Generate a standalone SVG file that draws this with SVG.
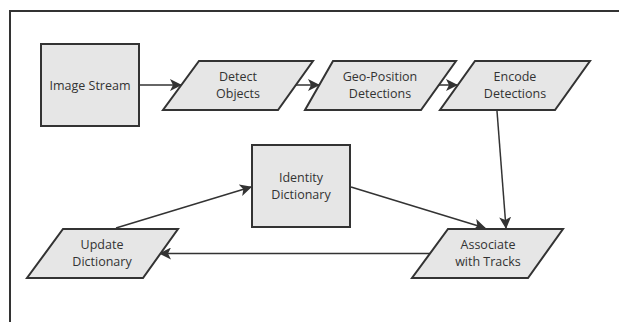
<svg xmlns="http://www.w3.org/2000/svg" width="619" height="322" viewBox="0 0 619 322">
<style>
.n{fill:#e6e6e6;stroke:#333;stroke-width:2}
.t{font-family:"Open Sans",sans-serif;font-size:12.5px;fill:#333;text-anchor:middle}
.c{stroke:#333;stroke-width:1.5;fill:none;marker-end:url(#a)}
</style>
<defs>
<marker id="a" markerWidth="12" markerHeight="12" refX="11" refY="6" orient="auto" markerUnits="userSpaceOnUse">
<path d="M0,0 L12,6 L0,12 L3,6 z" fill="#333"/>
</marker>
</defs>
<rect x="0" y="0" width="619" height="322" fill="#fff"/>
<path d="M10,330 L10,11 L630,11" fill="none" stroke="#333" stroke-width="2"/>
<g id="connectors">
<line class="c" x1="140" y1="85" x2="181" y2="85"/>
<line class="c" x1="296" y1="85" x2="319" y2="85"/>
<line class="c" x1="438" y1="85" x2="457" y2="85"/>
<line class="c" x1="497" y1="111" x2="506" y2="228"/>
<line class="c" x1="351" y1="187" x2="485" y2="228"/>
<line class="c" x1="430" y1="253.5" x2="160" y2="253.5"/>
<line class="c" x1="116" y1="228" x2="251" y2="187"/>
</g>
<g id="image-stream">
<rect class="n" x="41" y="44" width="98" height="82"/>
<text class="t" x="90" y="89.5">Image Stream</text>
</g>
<g id="detect-objects">
<polygon class="n" points="199,61 313,61 278,110 163,110"/>
<text class="t" x="238" y="81">Detect</text>
<text class="t" x="238" y="98">Objects</text>
</g>
<g id="geo-position">
<polygon class="n" points="333,61 456,61 421,110 305,110"/>
<text class="t" x="380" y="81">Geo-Position</text>
<text class="t" x="380" y="98">Detections</text>
</g>
<g id="encode-detections">
<polygon class="n" points="475,61 590,61 555,110 440,110"/>
<text class="t" x="515" y="81">Encode</text>
<text class="t" x="515" y="98">Detections</text>
</g>
<g id="identity-dictionary">
<rect class="n" x="252" y="145" width="98" height="82"/>
<text class="t" x="301" y="182">Identity</text>
<text class="t" x="301" y="199">Dictionary</text>
</g>
<g id="update-dictionary">
<polygon class="n" points="63,229 178,229 143,278 27,278"/>
<text class="t" x="102" y="249">Update</text>
<text class="t" x="102" y="266">Dictionary</text>
</g>
<g id="associate">
<polygon class="n" points="448,229 563,229 528,278 412,278"/>
<text class="t" x="488" y="249">Associate</text>
<text class="t" x="488" y="266">with Tracks</text>
</g>
</svg>
